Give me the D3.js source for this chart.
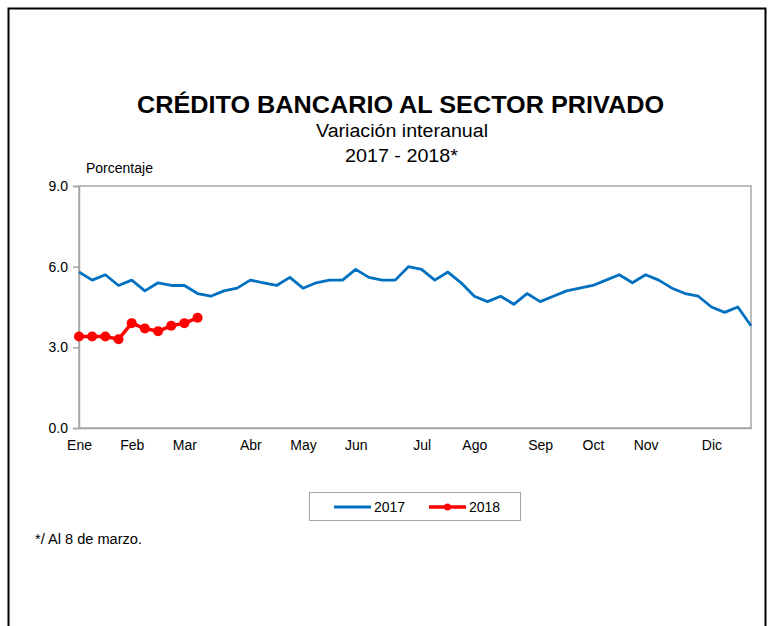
<!DOCTYPE html>
<html>
<head>
<meta charset="utf-8">
<script src="https://cdn.jsdelivr.net/npm/d3@7/dist/d3.min.js"></script>
<style>
  body { margin: 0; background: #fff; }
  svg { display: block; font-family: "Liberation Sans", Arial, sans-serif; }
</style>
</head>
<body>
<svg id="chart" width="769" height="626"></svg>
<script>
// ---- data ----
const months = ["Ene","Feb","Mar","Abr","May","Jun","Jul","Ago","Sep","Oct","Nov","Dic"];
const monthWeekIndex = [0,4,8,13,17,21,26,30,35,39,43,48];
const yTicks = [0, 3, 6, 9];
const series2017 = [5.8,5.5,5.7,5.3,5.5,5.1,5.4,5.3,5.3,5.0,4.9,5.1,5.2,5.5,5.4,5.3,5.6,5.2,5.4,5.5,5.5,5.9,5.6,5.5,5.5,6.0,5.9,5.5,5.8,5.4,4.9,4.7,4.9,4.6,5.0,4.7,4.9,5.1,5.2,5.3,5.5,5.7,5.4,5.7,5.5,5.2,5.0,4.9,4.5,4.3,4.5,3.8];
const series2018 = [3.4,3.4,3.4,3.3,3.9,3.7,3.6,3.8,3.9,4.1];
const seriesNames = ["2017","2018"];
const colors = ["#0070c0","#ff0000"];

const svg = d3.select("#chart");

// outer frame
svg.append("path")
  .attr("d","M8.5,640 L8.5,8.5 L765.5,8.5 L765.5,640")
  .attr("fill","none").attr("stroke","#000").attr("stroke-width",2);

// titles
svg.append("text").attr("x",400.5).attr("y",113).attr("text-anchor","middle")
  .attr("font-size",24).attr("font-weight","bold")
  .attr("textLength",527).attr("lengthAdjust","spacingAndGlyphs")
  .text("CRÉDITO BANCARIO AL SECTOR PRIVADO");
svg.append("text").attr("x",402).attr("y",137).attr("text-anchor","middle")
  .attr("font-size",18).attr("textLength",172).attr("lengthAdjust","spacingAndGlyphs")
  .text("Variación interanual");
svg.append("text").attr("x",401.5).attr("y",162).attr("text-anchor","middle")
  .attr("font-size",18).attr("textLength",113).attr("lengthAdjust","spacingAndGlyphs")
  .text("2017 - 2018*");
svg.append("text").attr("x",86).attr("y",173)
  .attr("font-size",14).text("Porcentaje");

// scales
const x = d3.scaleLinear().domain([0, series2017.length - 1]).range([79, 751]);
const y = d3.scaleLinear().domain([0, 9]).range([428, 186]);

// plot border
svg.append("rect").attr("x",79).attr("y",186).attr("width",672).attr("height",242)
  .attr("fill","none").attr("stroke","#a6a6a6").attr("stroke-width",1.5);

// y axis
const yAxis = svg.append("g").attr("transform","translate(79,0)")
  .call(d3.axisLeft(y).tickValues(yTicks).tickFormat(d3.format(".1f")).tickSize(6).tickPadding(5));
yAxis.select(".domain").attr("stroke","#a6a6a6").attr("stroke-width",1.5);
yAxis.selectAll(".tick line").attr("stroke","#a6a6a6").attr("stroke-width",1.5);
yAxis.selectAll("text").attr("font-size",14).attr("fill","#000")
  .attr("font-family","Liberation Sans, Arial, sans-serif");

// x axis
const xAxis = svg.append("g").attr("transform","translate(0,428)")
  .call(d3.axisBottom(x).tickValues(monthWeekIndex)
    .tickFormat((d,i) => months[i]).tickSize(0).tickPadding(12));
xAxis.select(".domain").attr("stroke","#a6a6a6").attr("stroke-width",1.5);
xAxis.selectAll("text").attr("font-size",14).attr("fill","#000")
  .attr("font-family","Liberation Sans, Arial, sans-serif");

// lines
const line = d3.line().x((d,i) => x(i)).y(d => y(d));
svg.append("path").datum(series2017).attr("d",line)
  .attr("fill","none").attr("stroke",colors[0]).attr("stroke-width",2.8)
  .attr("stroke-linejoin","round");
svg.append("path").datum(series2018).attr("d",line)
  .attr("fill","none").attr("stroke",colors[1]).attr("stroke-width",3.5)
  .attr("stroke-linejoin","round");
svg.append("g").selectAll("circle").data(series2018).join("circle")
  .attr("cx",(d,i) => x(i)).attr("cy",d => y(d)).attr("r",5)
  .attr("fill",colors[1]);

// legend
const lg = svg.append("g");
lg.append("rect").attr("x",309.5).attr("y",492.5).attr("width",211).attr("height",28)
  .attr("fill","#fff").attr("stroke","#a6a6a6").attr("stroke-width",1);
const legendX = [334, 429];
seriesNames.forEach((name, i) => {
  const g = lg.append("g").attr("transform", `translate(${legendX[i]},507)`);
  g.append("line").attr("x1",0).attr("x2",37).attr("y1",0).attr("y2",0)
    .attr("stroke",colors[i]).attr("stroke-width", i === 0 ? 2.8 : 3.5);
  if (i === 1) g.append("circle").attr("cx",18.5).attr("cy",0).attr("r",3.5).attr("fill",colors[i]);
  g.append("text").attr("x",40).attr("y",5).attr("font-size",14).text(name);
});

// footnote
svg.append("text").attr("x",35).attr("y",544).attr("font-size",14)
  .attr("textLength",107).attr("lengthAdjust","spacingAndGlyphs")
  .text("*/ Al 8 de marzo.");
</script>
</body>
</html>
